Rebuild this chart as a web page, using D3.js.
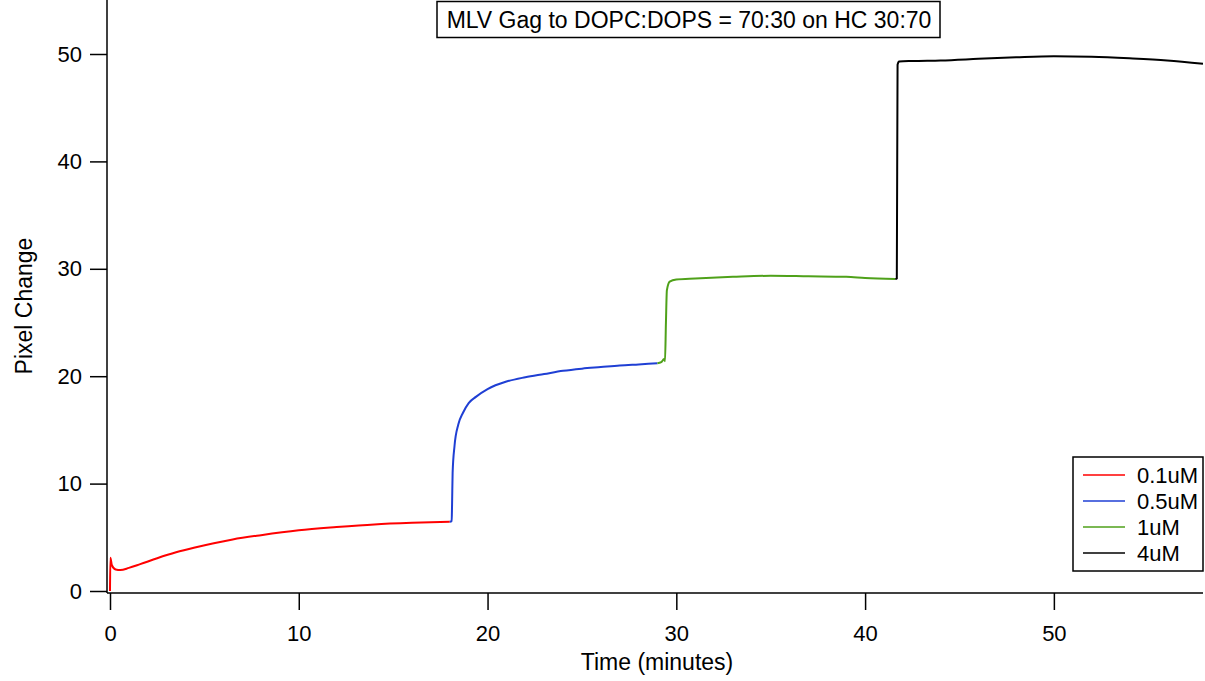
<!DOCTYPE html>
<html>
<head>
<meta charset="utf-8">
<script src="https://cdn.jsdelivr.net/npm/d3@7"></script>
<style>
  body { margin: 0; background: #fff; }
  svg { font-family: "Liberation Sans", Arial, sans-serif; }
</style>
</head>
<body>
<div id="chart"></div>
<script>
// Series data: [time in minutes, pixel change]
const red01 = [[0, 0], [0.02, 3.1], [0.1, 2.4], [0.3, 2.0], [0.55, 1.95], [1, 2.15], [1.6, 2.5], [2.5, 3.05],
    [3.5, 3.6], [4.5, 4.05], [5.5, 4.45], [6.5, 4.8], [8, 5.2], [10, 5.65], [12, 5.95], [14, 6.2], [16, 6.35], [18.0, 6.45]];
const blue05 = [[18.0, 6.45], [18.1, 6.5], [18.12, 8], [18.15, 11], [18.25, 13.5], [18.45, 15.5], [18.7, 16.6],
    [19.0, 17.5], [19.4, 18.1], [20, 18.8], [21, 19.5], [22, 19.9], [23, 20.2], [24, 20.5], [25, 20.7],
    [26, 20.85], [27, 21.0], [28, 21.1], [29, 21.2]];
const green1 = [[29.0, 21.2], [29.2, 21.3], [29.35, 21.6], [29.4, 21.4], [29.45, 25], [29.5, 28.0], [29.65, 28.8],
    [30, 29.0], [31, 29.1], [33, 29.25], [35, 29.35], [37, 29.3], [39, 29.25], [40, 29.15], [41.6, 29.05]];
const black4 = [[41.6, 29.05], [41.68, 29.1], [41.72, 49.0], [41.8, 49.3], [42.5, 49.35], [44, 49.4], [46, 49.55],
    [48, 49.7], [50, 49.8], [52, 49.75], [54, 49.6], [56, 49.4], [57.9, 49.1]];

const seriesNames = ["0.1uM", "0.5uM", "1uM", "4uM"];
const seriesColors = ["#ff0000", "#1f3fd4", "#4fa11a", "#000000"];
const seriesData = [red01, blue05, green1, black4];

const xTicks = [0, 10, 20, 30, 40, 50];
const yTicks = [0, 10, 20, 30, 40, 50];
const title = "MLV Gag to DOPC:DOPS = 70:30 on HC 30:70";

const width = 1205, height = 681;

const svg = d3.select("#chart")
    .append("svg")
    .attr("width", width)
    .attr("height", height);

const x = d3.scaleLinear().domain([0, 57.9]).range([110, 1203]);
const y = d3.scaleLinear().domain([0, 55]).range([591, 0.3]);

// axes (Igor-style, slightly offset from the zero lines)
const xAxis = svg.append("g")
    .attr("transform", "translate(0,593)")
    .call(d3.axisBottom(x).tickValues(xTicks).tickSize(17).tickPadding(15).tickSizeOuter(0));
xAxis.select(".domain").attr("d", "M107,0H1203");

const yAxis = svg.append("g")
    .attr("transform", "translate(107,0)")
    .call(d3.axisLeft(y).tickValues(yTicks).tickSize(17).tickPadding(8).tickSizeOuter(0));
yAxis.select(".domain").attr("d", "M0,0V593");

svg.selectAll(".tick text").attr("font-size", 22).attr("fill", "#000")
    .attr("font-family", "Liberation Sans, Arial, sans-serif");
svg.selectAll(".tick line, .domain").attr("stroke", "#000").attr("stroke-width", 1.5);

// axis titles
svg.append("text")
    .attr("x", 657).attr("y", 670)
    .attr("text-anchor", "middle")
    .attr("font-size", 23)
    .text("Time (minutes)");

svg.append("text")
    .attr("transform", "translate(32,306) rotate(-90)")
    .attr("text-anchor", "middle")
    .attr("font-size", 23)
    .text("Pixel Change");

// series
const line = d3.line()
    .x(d => x(d[0]))
    .y(d => y(d[1]))
    .curve(d3.curveMonotoneX);

svg.append("g")
    .selectAll("path")
    .data(seriesData)
    .join("path")
    .attr("d", line)
    .attr("fill", "none")
    .attr("stroke", (d, i) => seriesColors[i])
    .attr("stroke-width", 2);

// title box
svg.append("rect")
    .attr("x", 437).attr("y", 1.5)
    .attr("width", 503).attr("height", 36)
    .attr("fill", "#fff").attr("stroke", "#000").attr("stroke-width", 1.5);
svg.append("text")
    .attr("x", 689).attr("y", 28)
    .attr("text-anchor", "middle")
    .attr("font-size", 23)
    .text(title);

// legend
const legend = svg.append("g");
legend.append("rect")
    .attr("x", 1073).attr("y", 457)
    .attr("width", 130).attr("height", 114)
    .attr("fill", "#fff").attr("stroke", "#000").attr("stroke-width", 1.5);

const rows = legend.selectAll("g.row")
    .data(seriesNames)
    .join("g")
    .attr("class", "row")
    .attr("transform", (d, i) => `translate(0,${475 + i * 26})`);

rows.append("line")
    .attr("x1", 1083).attr("x2", 1125)
    .attr("stroke", (d, i) => seriesColors[i])
    .attr("stroke-width", 1.5);

rows.append("text")
    .attr("x", 1137).attr("y", 8)
    .attr("font-size", 22)
    .text(d => d);
</script>
</body>
</html>
